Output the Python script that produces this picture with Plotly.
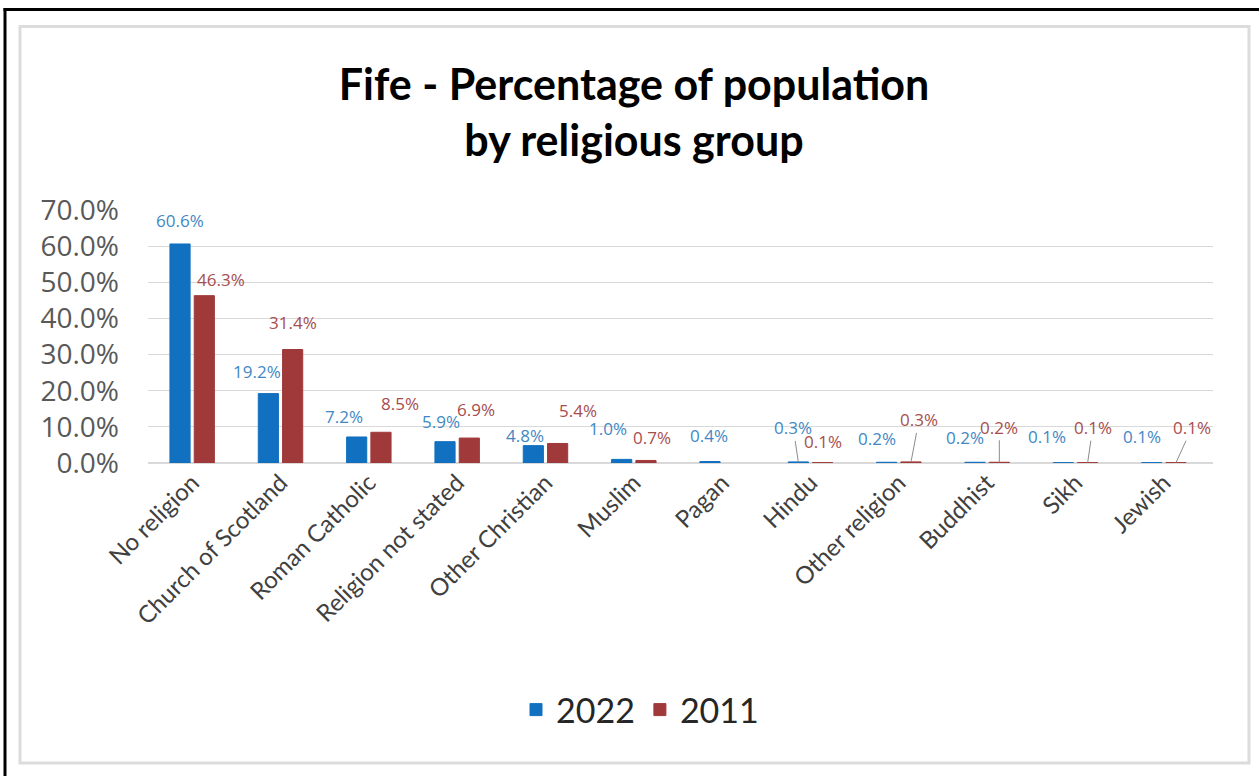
import plotly.graph_objects as go

categories = ["No religion", "Church of Scotland", "Roman Catholic", "Religion not stated",
              "Other Christian", "Muslim", "Pagan", "Hindu", "Other religion",
              "Buddhist", "Sikh", "Jewish"]
values_2022 = [60.6, 19.2, 7.2, 5.9, 4.8, 1.0, 0.4, 0.3, 0.2, 0.2, 0.1, 0.1]
values_2011 = [46.3, 31.4, 8.5, 6.9, 5.4, 0.7, None, 0.1, 0.3, 0.2, 0.1, 0.1]
y_ticks = [0, 10, 20, 30, 40, 50, 60, 70]

# label offsets (pixels) relative to bar tops, and whether a leader line is drawn
off_2022 = [(0, -23), (-11, -22), (-13, -20), (-4, -20), (-8, -10), (-14, -31),
            (-1, -26), (-5, -34), (-10, -24), (-10, -25), (-16, -26), (-10, -26)]
lead_2022 = [False] * 7 + [True] + [False] * 4
off_2011 = [(17, -16), (0, -27), (19, -29), (7, -29), (20, -33), (6, -23),
            (0, 0), (0, -21), (8, -42), (0, -35), (5, -35), (16, -35)]
lead_2011 = [False] * 8 + [True, True, True, True]

BLUE = "#1170BF"
RED = "#A0393A"
BLUE_T = "#3F88C5"
RED_T = "#A64D4D"

W, H = 1259, 776
PL, PR, PT, PB = 148, 46, 210, 313
PW, PH = W - PL - PR, H - PT - PB
BARGAP, BARGROUPGAP = 0.45, 0.17


def px(x):
    return (x - PL) / PW


def py(y):
    return (PT + PH - y) / PH


fig = go.Figure()
fig.add_trace(go.Bar(name="2022", x=categories, y=values_2022, marker_color=BLUE,
                     marker_line=dict(color=BLUE, width=1)))
fig.add_trace(go.Bar(name="2011", x=categories, y=values_2011, marker_color=RED,
                     marker_line=dict(color=RED, width=1)))

half = PW / len(categories) * (1 - BARGAP) / 4
annotations = []
for vals, offs, leads, sgn, col in [(values_2022, off_2022, lead_2022, -1, BLUE_T),
                                     (values_2011, off_2011, lead_2011, 1, RED_T)]:
    for c, v, (ax, ay), ld in zip(categories, vals, offs, leads):
        if v is None:
            continue
        annotations.append(dict(
            x=c, y=v, xref="x", yref="y", xshift=sgn * half,
            text=f"{v:.1f}%", showarrow=True, arrowhead=0, arrowwidth=1,
            arrowcolor="#8C8C8C" if ld else "rgba(0,0,0,0)", standoff=0,
            ax=ax, ay=ay, font=dict(family="Open Sans", size=17, color=col)))

shapes = [
    dict(type="rect", xref="paper", yref="paper", x0=px(20), x1=px(1249), y0=py(763), y1=py(26.5),
         line=dict(color="#DCDCDC", width=3)),
    dict(type="line", xref="paper", yref="paper", x0=px(3.5), x1=px(1262), y0=py(9.5), y1=py(9.5),
         line=dict(color="black", width=3)),
    dict(type="line", xref="paper", yref="paper", x0=px(5), x1=px(5), y0=py(8), y1=py(780),
         line=dict(color="black", width=3)),
]

fig.update_layout(
    width=W, height=H,
    margin=dict(l=PL, r=PR, t=PT, b=PB),
    paper_bgcolor="white", plot_bgcolor="white",
    barmode="group", bargap=BARGAP, bargroupgap=BARGROUPGAP,
    title=dict(text="<b>Fife - Percentage of population<br>by religious group</b>",
               x=634 / W, xref="container", xanchor="center",
               y=1 - 100 / H, yref="container", yanchor="middle",
               font=dict(family="Lato", size=43, color="black")),
    xaxis=dict(tickangle=-45, showgrid=False, showline=False, ticks="",
               tickfont=dict(family="Lato", size=24, color="#404040")),
    yaxis=dict(range=[0, 70], tickvals=y_ticks, ticktext=[f"{t:.1f}%" for t in y_ticks],
               showgrid=True, gridcolor="#D9D9D9", gridwidth=1, zeroline=True,
               zerolinecolor="#D9D9D9", showline=False, ticks="", ticklabelstandoff=28,
               tickfont=dict(family="Open Sans", size=28, color="#595959")),
    legend=dict(orientation="h", x=px(640), xanchor="center", y=py(710), yanchor="middle",
                font=dict(family="Lato", size=34, color="#262626"), traceorder="normal"),
    annotations=annotations,
    shapes=shapes,
    showlegend=True,
)

fig.write_html("out.html", config={"displayModeBar": False},
               post_script="document.body.style.margin='0';document.body.style.padding='0';")
